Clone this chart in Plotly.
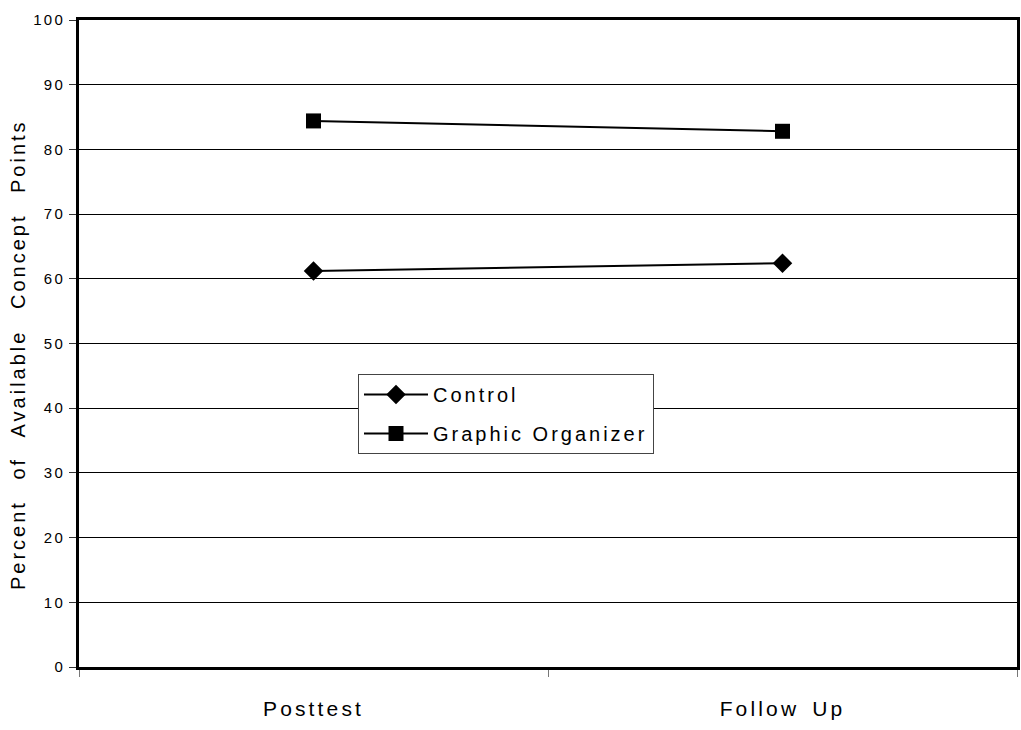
import plotly.graph_objects as go

categories = ["Posttest", "Follow Up"]
control = [61.2, 62.4]
graphic_organizer = [84.4, 82.8]
y_ticks = [0, 10, 20, 30, 40, 50, 60, 70, 80, 90, 100]
y_title = "Percent of Available Concept Points"

fig = go.Figure()
fig.add_trace(go.Scatter(
    x=categories, y=control, name="Control", mode="lines+markers",
    legendgroup="a",
    line=dict(color="black", width=2),
    marker=dict(symbol="diamond", size=15, color="black"),
))
fig.add_trace(go.Scatter(
    x=categories, y=graphic_organizer, name="Graphic Organizer", mode="lines+markers",
    legendgroup="b",
    line=dict(color="black", width=2),
    marker=dict(symbol="square", size=15, color="black"),
))

fig.update_layout(
    width=1021, height=730,
    margin=dict(l=79, r=4, t=20, b=63),
    paper_bgcolor="white", plot_bgcolor="white",
    font=dict(family="Liberation Sans, Arial, sans-serif", color="black", size=20),
    showlegend=True,
    legend=dict(
        x=(358 - 79) / 938, y=(667 - 374) / 647, xanchor="left", yanchor="top",
        bgcolor="white", bordercolor="#444", borderwidth=1,
        font=dict(size=20), itemwidth=64, traceorder="grouped", tracegroupgap=10,
    ),
    xaxis=dict(
        type="category", range=[-0.5, 1.5], automargin=False,
        tickson="boundaries", ticks="outside", ticklen=7, tickcolor="#777",
        showgrid=False, showline=True, linecolor="black", linewidth=3,
        mirror=True, tickfont=dict(size=21), ticklabelstandoff=21,
    ),
    yaxis=dict(
        range=[0, 100], tickvals=y_ticks, ticks="outside", ticklen=7, automargin=False,
        tickcolor="#333", showgrid=True, gridcolor="black", gridwidth=1,
        showline=True, linecolor="black", linewidth=3, mirror=True,
        zeroline=False, tickfont=dict(size=15), ticklabelstandoff=1,
    ),
    annotations=[dict(
        text=y_title, textangle=-90, showarrow=False,
        xref="paper", yref="paper", x=(18 - 79) / 938, y=(667 - 355) / 647,
        xanchor="center", yanchor="middle", font=dict(size=20),
    )],
)

post = """
document.body.style.margin = '0';
var s = document.createElement('style');
s.textContent = 'svg text { letter-spacing: 0.15em !important; } ' +
  'text.annotation-text { word-spacing: 12px; } .xtick text { word-spacing: 4px; }';
document.head.appendChild(s);
var gd = document.getElementById('{plot_id}');
Plotly.relayout(gd, {'font.family': 'Arial, Liberation Sans, sans-serif'});
"""

fig.write_html("out.html", post_script=post, config={"displayModeBar": False})
